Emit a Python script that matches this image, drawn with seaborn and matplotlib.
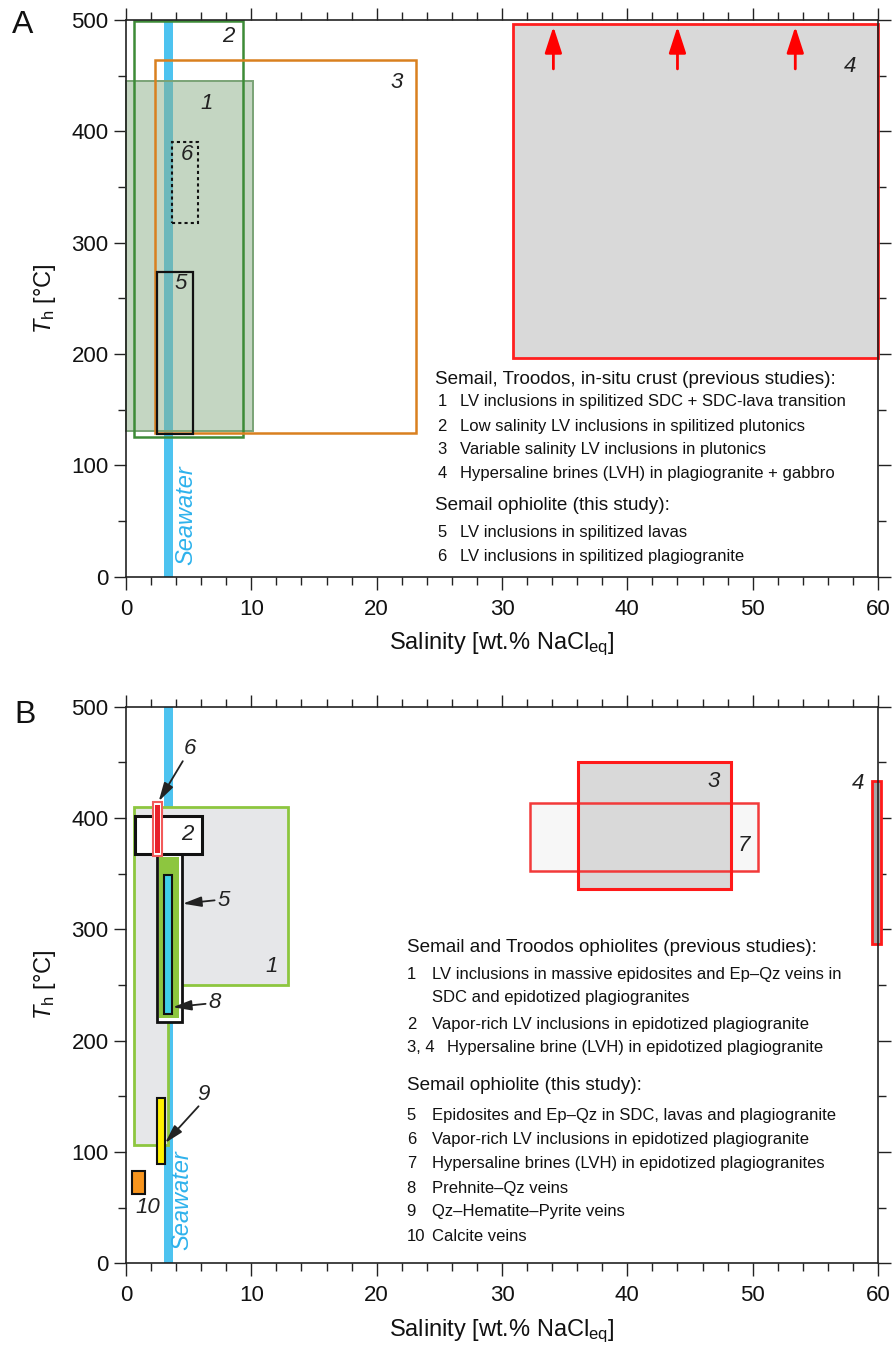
import matplotlib
matplotlib.use("Agg")
import matplotlib.pyplot as plt
import seaborn as sns
from matplotlib.patches import Rectangle, Polygon
from matplotlib.ticker import MultipleLocator

sns.set_theme(style="ticks")
plt.rcParams['font.family'] = ['Liberation Sans', 'DejaVu Sans']
plt.rcParams['mathtext.fontset'] = 'custom'
plt.rcParams['mathtext.rm'] = 'Liberation Sans'
plt.rcParams['mathtext.it'] = 'Liberation Sans:italic'

# ---------------- data ----------------
seawater_range = [3.05, 3.75]

# Panel A boxes: 1..6
A_ids = ['1', '2', '3', '4', '5', '6']
A_x0 = [0.0, 0.65, 2.3, 30.9, 2.5, 3.65]
A_x1 = [10.1, 9.3, 23.1, 60.0, 5.35, 5.75]
A_y0 = [131, 125, 129, 196, 128, 318]
A_y1 = [445, 499, 464, 496, 274, 390]
A_lab_x = [6.4, 8.2, 21.6, 57.8, 4.35, 4.85]
A_lab_y = [425, 485, 444, 458, 263, 379]
A_arrow_x = [34.1, 44.0, 53.4]
A_arrow_y = [456, 494]

A_head1 = "Semail, Troodos, in-situ crust (previous studies):"
A_items1_num = ['1', '2', '3', '4']
A_items1_txt = ["LV inclusions in spilitized SDC + SDC-lava transition",
                "Low salinity LV inclusions in spilitized plutonics",
                "Variable salinity LV inclusions in plutonics",
                "Hypersaline brines (LVH) in plagiogranite + gabbro"]
A_head2 = "Semail ophiolite (this study):"
A_items2_num = ['5', '6']
A_items2_txt = ["LV inclusions in spilitized lavas",
                "LV inclusions in spilitized plagiogranite"]

# Panel B boxes
B1_poly_x = [0.67, 0.67, 12.9, 12.9, 3.33, 3.33]
B1_poly_y = [106, 410, 410, 250, 250, 106]
B_ids = ['2', '3', '4', '5', '6', '7', '8', '9', '10']
B_x0 = [0.75, 36.05, 59.55, 2.45, 2.13, 32.2, 3.07, 2.48, 0.45]
B_x1 = [6.05, 48.3, 60.25, 4.45, 2.88, 50.4, 3.65, 3.12, 1.52]
B_y0 = [368, 336, 287, 217, 366, 352, 224, 89, 62]
B_y1 = [402, 450, 433, 368, 414, 413, 349, 148, 83]
B_lab_ids = ['1', '2', '3', '4', '7', '10']
B_lab_x = [11.6, 4.93, 46.9, 58.4, 49.3, 1.7]
B_lab_y = [267, 385, 433, 431, 375, 50]
B_arrow_ids = ['6', '5', '8', '9']
B_arrow_lab_x = [5.12, 7.79, 7.07, 6.19]
B_arrow_lab_y = [462, 326, 234, 152]
B_arrow_from_x = [4.53, 7.07, 6.35, 5.79]
B_arrow_from_y = [451, 326, 233, 141]
B_arrow_to_x = [2.61, 4.53, 3.73, 3.12]
B_arrow_to_y = [415, 323, 230, 108]

B_head1 = "Semail and Troodos ophiolites (previous studies):"
B_items1_num = ['1', '', '2', '3, 4']
B_items1_txt = ["LV inclusions in massive epidosites and Ep\u2013Qz veins in",
                "SDC and epidotized plagiogranites",
                "Vapor-rich LV inclusions in epidotized plagiogranite",
                "Hypersaline brine (LVH) in epidotized plagiogranite"]
B_head2 = "Semail ophiolite (this study):"
B_items2_num = ['5', '6', '7', '8', '9', '10']
B_items2_txt = ["Epidosites and Ep\u2013Qz in SDC, lavas and plagiogranite",
                "Vapor-rich LV inclusions in epidotized plagiogranite",
                "Hypersaline brines (LVH) in epidotized plagiogranites",
                "Prehnite\u2013Qz veins",
                "Qz\u2013Hematite\u2013Pyrite veins",
                "Calcite veins"]

# ---------------- figure ----------------
fig = plt.figure(figsize=(8.93, 13.47), dpi=100)
axA = fig.add_axes([0.1411, 0.5720, 0.8421, 0.4132])
axB = fig.add_axes([0.1411, 0.0622, 0.8421, 0.4132])

SEA = '#4dc3f0'
SEA_TXT = '#2eb2ec'
NUMFS = 16
HEADFS = 13.6
ITEMFS = 12


def style_axes(ax):
    ax.set_xlim(0, 60)
    ax.set_ylim(0, 500)
    ax.xaxis.set_major_locator(MultipleLocator(10))
    ax.xaxis.set_minor_locator(MultipleLocator(2))
    ax.yaxis.set_major_locator(MultipleLocator(100))
    ax.yaxis.set_minor_locator(MultipleLocator(50))
    ax.tick_params(which='both', direction='out', top=True, right=True,
                   color='#222222', width=1.0, labelsize=16, labelcolor='#111111')
    ax.tick_params(which='major', length=9)
    ax.tick_params(which='minor', length=6)
    ax.tick_params(axis='x', which='major', pad=7)
    for s in ax.spines.values():
        s.set_visible(True)
        s.set_color('#222222')
        s.set_linewidth(1.2)
        s.set_zorder(20)
    ax.set_xlabel(r'Salinity [wt.% NaCl$_\mathrm{eq}$]', fontsize=17, color='#111111', labelpad=8)
    ax.set_ylabel(r'$T_\mathrm{h}$ [°C]', fontsize=17, color='#111111', labelpad=10)
    ax.set_facecolor('white')


for ax in (axA, axB):
    style_axes(ax)

# ---------- Panel A ----------
ax = axA
ax.axvspan(seawater_range[0], seawater_range[1], ymin=0, ymax=1, color=SEA, lw=0, zorder=1)
a_face = [(0.545, 0.686, 0.529, 0.5), 'none', 'none', '#d9d9d9', 'none', 'none']
a_edge = ['#7aa376', '#3d8b37', '#d9801f', '#ff1f1f', '#111111', '#111111']
a_ls = ['-', '-', '-', '-', '-', (0, (1.5, 1.5))]
a_lw = [1.4, 1.8, 1.8, 2.0, 1.6, 1.5]
a_z = [2, 3, 3, 2, 4, 4]
for i in range(len(A_ids)):
    ax.add_patch(Rectangle((A_x0[i], A_y0[i]), A_x1[i] - A_x0[i], A_y1[i] - A_y0[i],
                           facecolor=a_face[i], edgecolor=a_edge[i], lw=a_lw[i],
                           ls=a_ls[i], zorder=a_z[i], clip_on=False))
    ax.text(A_lab_x[i], A_lab_y[i], A_ids[i], fontsize=NUMFS, style='italic',
            ha='center', va='center', color='#222222', zorder=6)
for x in A_arrow_x:
    ax.annotate('', xy=(x, A_arrow_y[1]), xytext=(x, A_arrow_y[0]),
                arrowprops=dict(arrowstyle='-|>,head_length=0.8,head_width=0.26',
                                color='#ff0000', lw=2.0, mutation_scale=20,
                                shrinkA=0, shrinkB=0), zorder=6)
ax.text(4.8, 10, 'Seawater', rotation=90, fontsize=17, style='italic',
        color=SEA_TXT, ha='center', va='bottom', zorder=6)

# legend text A
ax.text(24.66, 177, A_head1, fontsize=HEADFS, ha='left', va='center', color='#111111')
ys1 = [157, 134.6, 114.3, 92.1]
for n, t, y in zip(A_items1_num, A_items1_txt, ys1):
    ax.text(24.85, y, n, fontsize=ITEMFS, ha='left', va='center', color='#111111')
    ax.text(26.65, y, t, fontsize=ITEMFS, ha='left', va='center', color='#111111')
ax.text(24.66, 64.2, A_head2, fontsize=HEADFS, ha='left', va='center', color='#111111')
ys2 = [39.7, 17.8]
for n, t, y in zip(A_items2_num, A_items2_txt, ys2):
    ax.text(24.85, y, n, fontsize=ITEMFS, ha='left', va='center', color='#111111')
    ax.text(26.65, y, t, fontsize=ITEMFS, ha='left', va='center', color='#111111')

# ---------- Panel B ----------
ax = axB
ax.axvspan(seawater_range[0], seawater_range[1], ymin=0, ymax=1, color=SEA, lw=0, zorder=1)
ax.add_patch(Polygon(list(zip(B1_poly_x, B1_poly_y)), closed=True, facecolor='#e6e7e9',
                     edgecolor='#8dc63f', lw=2.0, zorder=2))
b = {k: i for i, k in enumerate(B_ids)}


def rect(key, **kw):
    i = b[key]
    return Rectangle((B_x0[i], B_y0[i]), B_x1[i] - B_x0[i], B_y1[i] - B_y0[i], **kw)


# 7 and 3 (overlapping)
ax.add_patch(rect('7', facecolor='#f7f7f7', edgecolor='none', zorder=2))
ax.add_patch(rect('3', facecolor='#d9d9d9', edgecolor='none', zorder=3))
ax.add_patch(rect('7', facecolor='none', edgecolor='#f23a3a', lw=1.8, zorder=4))
ax.add_patch(rect('3', facecolor='none', edgecolor='#ff1a1a', lw=2.2, zorder=4))
# 4
ax.add_patch(rect('4', facecolor='#a6a6a6', edgecolor='#ff1a1a', lw=2.0, zorder=4, clip_on=False))
# 5: black frame, white gap, green interior
ax.add_patch(rect('5', facecolor='white', edgecolor='#111111', lw=2.0, zorder=3))
i5 = b['5']
ax.add_patch(Rectangle((B_x0[i5] + 0.22, B_y0[i5] + 3.0), B_x1[i5] - B_x0[i5] - 0.44,
                       B_y1[i5] - B_y0[i5] - 6, facecolor='#8dc63f', edgecolor='none', zorder=3.5))
# 8
ax.add_patch(rect('8', facecolor='#40cfe8', edgecolor='#111111', lw=1.5, zorder=4))
# 2
ax.add_patch(rect('2', facecolor='white', edgecolor='#111111', lw=2.2, zorder=5))
# 6: pink frame, white gap, red interior
ax.add_patch(rect('6', facecolor='white', edgecolor='#f25a5a', lw=1.5, zorder=6))
i6 = b['6']
ax.add_patch(Rectangle((B_x0[i6] + 0.15, B_y0[i6] + 2.2), B_x1[i6] - B_x0[i6] - 0.30,
                       B_y1[i6] - B_y0[i6] - 4.4, facecolor='#e8202a', edgecolor='none', zorder=6.5))
# 9, 10
ax.add_patch(rect('9', facecolor='#fff200', edgecolor='#111111', lw=1.5, zorder=5))
ax.add_patch(rect('10', facecolor='#f7941d', edgecolor='#111111', lw=1.5, zorder=5))

for t, x, y in zip(B_lab_ids, B_lab_x, B_lab_y):
    ax.text(x, y, t, fontsize=NUMFS, style='italic', ha='center', va='center',
            color='#222222', zorder=8)
for t, lx, ly, fx, fy, tx, ty in zip(B_arrow_ids, B_arrow_lab_x, B_arrow_lab_y,
                                     B_arrow_from_x, B_arrow_from_y, B_arrow_to_x, B_arrow_to_y):
    ax.text(lx, ly, t, fontsize=NUMFS, style='italic', ha='center', va='center',
            color='#222222', zorder=8)
    ax.annotate('', xy=(tx, ty), xytext=(fx, fy),
                arrowprops=dict(arrowstyle='-|>,head_length=0.8,head_width=0.22',
                                color='#222222', lw=1.3, mutation_scale=14,
                                shrinkA=0, shrinkB=0), zorder=9)
ax.text(4.45, 12, 'Seawater', rotation=90, fontsize=17, style='italic',
        color=SEA_TXT, ha='center', va='bottom', zorder=6)

# legend text B
ax.text(22.4, 283.5, B_head1, fontsize=HEADFS, ha='left', va='center', color='#111111')
ysb1 = [259.6, 238.7, 214.7, 193.7]
for n, t, y in zip(B_items1_num, B_items1_txt, ysb1):
    ax.text(22.4, y, n, fontsize=ITEMFS, ha='left', va='center', color='#111111')
    ax.text(25.6 if n == '3, 4' else 24.4, y, t, fontsize=ITEMFS, ha='left',
            va='center', color='#111111')
ax.text(22.4, 160, B_head2, fontsize=HEADFS, ha='left', va='center', color='#111111')
ysb2 = [132.8, 110.7, 89.3, 67.5, 46.3, 24.4]
for n, t, y in zip(B_items2_num, B_items2_txt, ysb2):
    ax.text(22.4, y, n, fontsize=ITEMFS, ha='left', va='center', color='#111111')
    ax.text(24.4, y, t, fontsize=ITEMFS, ha='left', va='center', color='#111111')

fig.text(12 / 893, 1 - 10 / 1347, 'A', fontsize=23, ha='left', va='top', color='#111111')
fig.text(14 / 893, 1 - 700 / 1347, 'B', fontsize=23, ha='left', va='top', color='#111111')

fig.savefig('out.png', dpi=100, facecolor='white')
